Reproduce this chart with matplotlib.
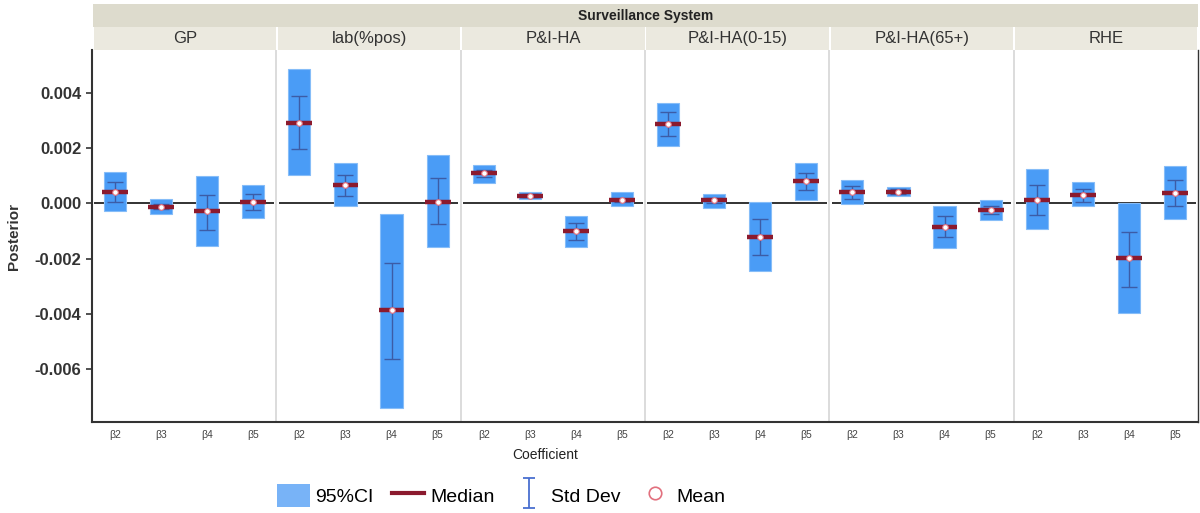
import numpy as np
import matplotlib.pyplot as plt
from matplotlib.patches import Rectangle, Patch
from matplotlib.lines import Line2D
from matplotlib.path import Path

plt.rcParams['font.family'] = ['Liberation Sans', 'DejaVu Sans']

# --- data ---
systems = ['GP', 'lab(%pos)', 'P&I-HA', 'P&I-HA(0-15)', 'P&I-HA(65+)', 'RHE']
coefs = ['β2', 'β3', 'β4', 'β5']

ci_low = [
    [-0.00028, -0.00037, -0.00155, -0.00053],
    [0.00101, -0.00011, -0.00738, -0.00156],
    [0.00074, 0.00017, -0.00156, -0.00011],
    [0.00207, -0.00017, -0.00246, 0.00013],
    [-0.00004, 0.00025, -0.00160, -0.00059],
    [-0.00094, -0.00011, -0.00396, -0.00058],
]
ci_high = [
    [0.00112, 0.00016, 0.00098, 0.00068],
    [0.00486, 0.00144, -0.00040, 0.00174],
    [0.00138, 0.00041, -0.00046, 0.00041],
    [0.00363, 0.00035, 0.00005, 0.00144],
    [0.00083, 0.00058, -0.00011, 0.00011],
    [0.00123, 0.00077, 0.00000, 0.00134],
]
median = [
    [0.00042, -0.00013, -0.00029, 0.00006],
    [0.00292, 0.00068, -0.00387, 0.00006],
    [0.00109, 0.00028, -0.00101, 0.00011],
    [0.00287, 0.00011, -0.00122, 0.00079],
    [0.00042, 0.00042, -0.00086, -0.00024],
    [0.00011, 0.00031, -0.00198, 0.00037],
]
sd_low = [
    [0.00005, -0.00022, -0.00098, -0.00025],
    [0.00195, 0.00026, -0.00563, -0.00076],
    [0.00095, 0.00023, -0.00134, 0.00005],
    [0.00245, 0.00003, -0.00188, 0.00047],
    [0.00014, 0.00032, -0.00123, -0.00040],
    [-0.00041, 0.00005, -0.00303, -0.00010],
]
sd_high = [
    [0.00076, -0.00004, 0.00029, 0.00035],
    [0.00388, 0.00104, -0.00215, 0.00093],
    [0.00122, 0.00033, -0.00071, 0.00017],
    [0.00329, 0.00019, -0.00058, 0.00111],
    [0.00063, 0.00052, -0.00046, -0.00008],
    [0.00068, 0.00053, -0.00104, 0.00083],
]
mean = median

bar_col = '#4a9cf6'
med_col = '#8b1a2e'
sd_col = '#3c5ca6'
mean_col = '#e2707e'

fig = plt.figure(figsize=(12, 5.13), dpi=100)
ax = fig.add_axes([92/1200, 91/513, 1106/1200, 372/513])

n = len(coefs)
for i, sysname in enumerate(systems):
    x = np.arange(n) + i * n
    lo = np.array(ci_low[i]); hi = np.array(ci_high[i])
    ax.bar(x, hi - lo, bottom=lo, width=0.48, color=bar_col,
           edgecolor='#86bdf8', linewidth=0.8, zorder=2)
    ax.errorbar(x, median[i], yerr=[np.array(median[i]) - np.array(sd_low[i]),
                                    np.array(sd_high[i]) - np.array(median[i])],
                fmt='none', ecolor=sd_col, elinewidth=1.0, capsize=6,
                capthick=1.0, zorder=3)
    ax.hlines(median[i], x - 0.28, x + 0.28, color=med_col, lw=3.2, zorder=4)
    ax.plot(x, mean[i], 'o', ms=4, mfc='white', mec=mean_col, mew=0.8, zorder=5)
    ax.hlines(0, i * n - 0.45, i * n + n - 0.55, color='#222222', lw=1.3, zorder=1)
    if i > 0:
        ax.axvline(i * n - 0.5, color='#d9d9d9', lw=1.3, zorder=0)

ax.set_xlim(-0.5, len(systems) * n - 0.5)
ax.set_ylim(-0.0079, 0.00554)
ax.set_xticks(np.arange(len(systems) * n))
ax.set_xticklabels(coefs * len(systems), fontsize=7.5, color='#444444')
ax.tick_params(axis='x', length=0, pad=6)
ax.set_yticks([0.004, 0.002, 0.0, -0.002, -0.004, -0.006])
ax.set_yticklabels(['0.004', '0.002', '0.000', '-0.002', '-0.004', '-0.006'],
                   fontsize=12, fontweight='bold', color='#333333')
ax.tick_params(axis='y', length=4, width=1.2, color='#333333')
ax.set_ylabel('Posterior', fontsize=11, fontweight='bold', color='#333333', labelpad=10)
ax.spines['top'].set_visible(False)
for s in ['left', 'bottom', 'right']:
    ax.spines[s].set_color('#333333')
    ax.spines[s].set_linewidth(1.5)
ax.spines['right'].set_linewidth(1.0)

fig.text(545/1200, 1 - 455/513, 'Coefficient', ha='center', va='center',
         fontsize=10, color='#222222')

# --- strip headers ---
sax = fig.add_axes([93/1200, (513-50)/513, 1105/1200, 46/513])
sax.set_xlim(-0.5, len(systems) * n - 0.5)
sax.set_ylim(0, 2)
sax.axis('off')
sax.add_patch(Rectangle((-0.5, 1.02), len(systems) * n, 0.98,
                        facecolor='#dddbcd', edgecolor='none'))
sax.text(len(systems) * n / 2 - 0.5, 1.48, 'Surveillance System', ha='center',
         va='center', fontsize=10, fontweight='bold', color='#222222')
for i, sysname in enumerate(systems):
    sax.add_patch(Rectangle((i * n - 0.5 + 0.02, 0), n - 0.04, 0.98,
                            facecolor='#ebe9df', edgecolor='none'))
    sax.text(i * n + n / 2 - 0.5, 0.5, sysname, ha='center', va='center',
             fontsize=12, color='#333333')

# --- legend ---
ibeam = Path([(-0.4, 1), (0.4, 1), (0, 1), (0, -1), (-0.4, -1), (0.4, -1)],
             [Path.MOVETO, Path.LINETO, Path.MOVETO, Path.LINETO, Path.MOVETO, Path.LINETO])
handles = [
    Patch(facecolor='#78b3f7', edgecolor='none', label='95%CI'),
    Line2D([], [], color=med_col, lw=3, label='Median'),
    Line2D([], [], ls='none', marker=ibeam, ms=22, mec='#4a6fd0', mfc='none',
           mew=1.3, label='Std Dev'),
    Line2D([], [], ls='none', marker='o', ms=9, mec=mean_col, mfc='none',
           mew=1.2, label='Mean'),
]
fig.legend(handles=handles, loc='center', bbox_to_anchor=(0.418, 0.034), ncol=4,
           frameon=False, fontsize=14, handlelength=1.65, handleheight=1.4,
           columnspacing=0.95, handletextpad=0.3)

fig.savefig('out.png', dpi=100)
